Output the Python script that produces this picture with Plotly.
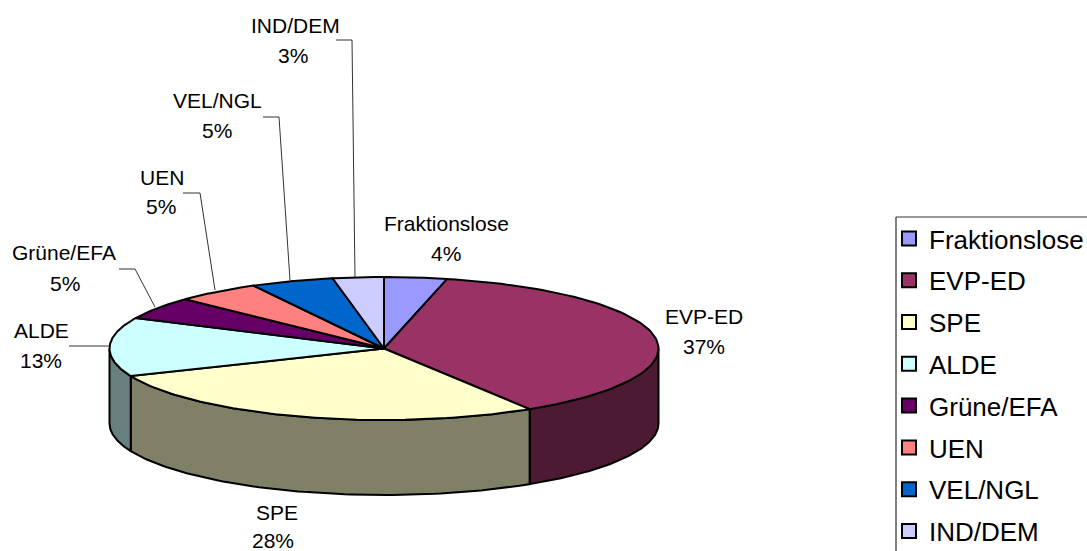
import numpy as np
import plotly.graph_objects as go

# Data
categories = ["Fraktionslose", "EVP-ED", "SPE", "ALDE", "Grüne/EFA", "UEN", "VEL/NGL", "IND/DEM"]
values = [3.7, 37.4, 27.6, 13.3, 5.1, 5.0, 4.9, 3.0]
top_colors = ["#9999FF", "#993366", "#FFFFCC", "#CCFFFF", "#660066", "#FF8080", "#0066CC", "#CCCCFF"]
side_colors = ["#4D4D80", "#4D1A33", "#808066", "#668080", "#330033", "#804040", "#003366", "#666680"]

# Geometry of the pie (pixel-like axes)
CX, CY, RX, RY, DEPTH = 384, 348.5, 274.5, 71.5, 75
FONT = "Liberation Sans, Arial, sans-serif"
EDGE = dict(color="#000000", width=2)

# Label placement: name-line centre, value-line centre
label_pos = {
    "Fraktionslose": ((446, 223), (446, 253)),
    "EVP-ED": ((704, 316), (704, 346)),
    "SPE": ((277, 512), (273, 540)),
    "ALDE": ((41, 330), (41, 360)),
    "Grüne/EFA": ((64, 252), (65, 283)),
    "UEN": ((162, 177), (161, 206)),
    "VEL/NGL": ((217, 100), (217, 130)),
    "IND/DEM": ((295, 25), (293, 55)),
}
leader_x = [[336, 352, 355], [263, 279, 290], [183, 200, 215], [119, 135, 155], [69, 109]]
leader_y = [[40, 40, 277], [117, 117, 280], [193, 193, 290], [269, 269, 307], [346, 346]]


def rim(a0, a1, n=80):
    t = np.radians(np.linspace(a0, a1, n))
    return CX + RX * np.sin(t), CY - RY * np.cos(t)


fig = go.Figure()
bounds = np.concatenate([[0], np.cumsum(values) / sum(values) * 360])

# Side walls (only the front half of the rim, 90..270 degrees)
for i, c in enumerate(categories):
    a0, a1 = max(bounds[i], 90), min(bounds[i + 1], 270)
    if a1 <= a0:
        continue
    x, y = rim(a0, a1)
    fig.add_trace(go.Scatter(
        x=np.concatenate([x, x[::-1], x[:1]]),
        y=np.concatenate([y, y[::-1] + DEPTH, y[:1]]),
        mode="lines", fill="toself", fillcolor=side_colors[i],
        line=EDGE, showlegend=False, hoverinfo="skip"))

# Top faces
for i, c in enumerate(categories):
    x, y = rim(bounds[i], bounds[i + 1])
    fig.add_trace(go.Scatter(
        x=np.concatenate([[CX], x, [CX]]),
        y=np.concatenate([[CY], y, [CY]]),
        mode="lines", fill="toself", fillcolor=top_colors[i],
        line=EDGE, showlegend=False, name=c, hoverinfo="name"))

# Leader lines
for lx, ly in zip(leader_x, leader_y):
    fig.add_trace(go.Scatter(x=lx, y=ly, mode="lines", line=dict(color="#333333", width=1),
                             showlegend=False, hoverinfo="skip"))

# Legend entries
for i, c in enumerate(categories):
    fig.add_trace(go.Scatter(
        x=[None], y=[None], mode="markers", name=c, legendgroup=c,
        marker=dict(symbol="square", size=14, color=top_colors[i], line=dict(color="#000000", width=2))))

# Data labels
anns = []
for c, v in zip(categories, values):
    for (px, py), txt in zip(label_pos[c], (c, f"{round(v)}%")):
        anns.append(dict(x=px, y=py, xref="x", yref="y", text=txt, showarrow=False,
                         xanchor="center", yanchor="middle",
                         font=dict(family=FONT, size=21, color="#000000")))

fig.update_layout(
    width=1087, height=551,
    margin=dict(l=0, r=0, t=0, b=0, autoexpand=False),
    paper_bgcolor="#FFFFFF", plot_bgcolor="#FFFFFF",
    xaxis=dict(range=[0, 1087], visible=False, fixedrange=True),
    yaxis=dict(range=[551, 0], visible=False, fixedrange=True),
    annotations=anns,
    legend=dict(x=889 / 1087, y=1 - 215 / 551, xanchor="left", yanchor="top",
                font=dict(family=FONT, size=26, color="#000000"),
                bgcolor="rgba(0,0,0,0)", borderwidth=0,
                tracegroupgap=5, itemsizing="trace", itemwidth=30,
                itemclick=False, itemdoubleclick=False),
    shapes=[
        dict(type="line", xref="x", yref="y", x0=896, x1=896, y0=217, y1=551,
             line=dict(color="#808080", width=2)),
        dict(type="line", xref="x", yref="y", x0=896, x1=1087, y0=217, y1=217,
             line=dict(color="#333333", width=1)),
    ],
)
fig.write_html("out.html", config={"displayModeBar": False},
               post_script="document.body.style.margin='0';document.body.style.overflow='hidden';")
